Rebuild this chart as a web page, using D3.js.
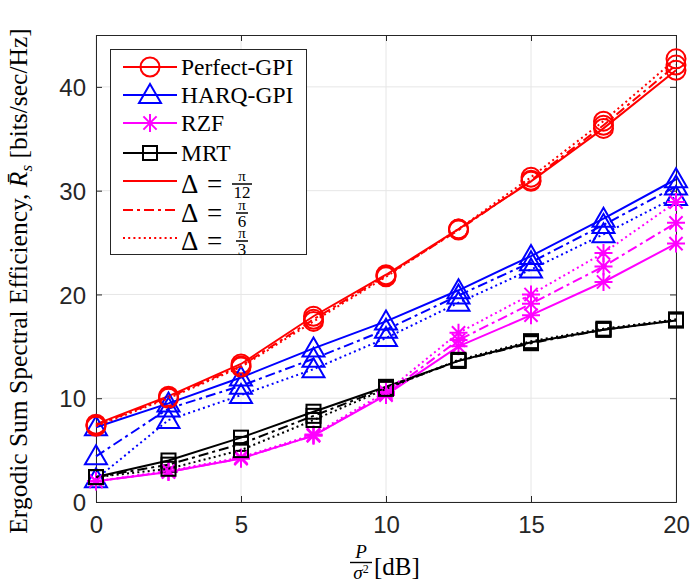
<!DOCTYPE html>
<html><head><meta charset="utf-8">
<script src="https://cdn.jsdelivr.net/npm/d3@7"></script>
<style>body{margin:0;background:#fff}svg{display:block}</style>
</head><body>
<svg id="c" width="693" height="582"></svg>
<script>
const snr = [0, 2.5, 5, 7.5, 10, 12.5, 15, 17.5, 20];
const xTicks = [0, 5, 10, 15, 20];
const yTicks = [0, 10, 20, 30, 40];
const schemes = ["Perfect-GPI", "HARQ-GPI", "RZF", "MRT"];
const deltas = ["π/12", "π/6", "π/3"];
// values per scheme, per delta (solid: π/12, dashdot: π/6, dotted: π/3)
const perfect12 = [7.5, 10.2, 13.3, 17.9, 21.9, 26.3, 30.9, 36.0, 41.6];
const perfect6  = [7.4, 10.1, 13.1, 17.6, 21.8, 26.2, 31.0, 36.3, 42.1];
const perfect3  = [7.3, 10.0, 13.0, 17.4, 21.7, 26.3, 31.3, 36.7, 42.7];
const harq12 = [7.2, 9.5, 12.0, 14.8, 17.4, 20.4, 23.7, 27.3, 31.1];
const harq6  = [4.4, 9.0, 11.2, 13.8, 16.6, 19.9, 23.1, 26.7, 30.4];
const harq3  = [2.2, 7.9, 10.3, 12.8, 15.8, 19.2, 22.4, 25.8, 29.4];
const rzf12 = [2.0, 2.9, 4.2, 6.4, 10.3, 15.0, 18.0, 21.2, 24.9];
const rzf6  = [2.0, 2.9, 4.2, 6.4, 10.4, 15.6, 19.1, 22.7, 26.9];
const rzf3  = [2.0, 3.0, 4.3, 6.5, 10.6, 16.3, 20.0, 24.0, 28.9];
const mrt12 = [2.4, 4.0, 6.2, 8.7, 11.1, 13.6, 15.4, 16.6, 17.5];
const mrt6  = [2.4, 3.6, 5.6, 8.3, 11.0, 13.6, 15.3, 16.6, 17.5];
const mrt3  = [2.4, 3.2, 5.0, 7.9, 10.9, 13.7, 15.5, 16.7, 17.6];

const colors = {"Perfect-GPI":"#FF0000","HARQ-GPI":"#0000FF","RZF":"#FF00FF","MRT":"#000000"};
const markers = {"Perfect-GPI":"circle","HARQ-GPI":"triangle","RZF":"star","MRT":"square"};
const dashes = ["none", "10,4,3,4", "2,3.2"];
const series = [
  {s:"Perfect-GPI", d:0, v:perfect12},{s:"HARQ-GPI", d:0, v:harq12},{s:"RZF", d:0, v:rzf12},{s:"MRT", d:0, v:mrt12},
  {s:"Perfect-GPI", d:1, v:perfect6},{s:"HARQ-GPI", d:1, v:harq6},{s:"RZF", d:1, v:rzf6},{s:"MRT", d:1, v:mrt6},
  {s:"Perfect-GPI", d:2, v:perfect3},{s:"HARQ-GPI", d:2, v:harq3},{s:"RZF", d:2, v:rzf3},{s:"MRT", d:2, v:mrt3}
];

const svg = d3.select("#c");
const L = 96, R = 676, T = 35, B = 502;
const x = d3.scaleLinear().domain([0, 20]).range([L, R]);
const y = d3.scaleLinear().domain([0, 45]).range([B, T]);
const axisCol = "#262626";
const serifF = "Liberation Serif, Tinos, Nimbus Roman, Times New Roman, DejaVu Serif, serif";

// grid
const g = svg.append("g");
g.selectAll(".gx").data(xTicks).join("line").attr("x1", d=>x(d)).attr("x2", d=>x(d)).attr("y1", T).attr("y2", B)
  .attr("stroke", "#e6e6e6").attr("stroke-width", 1);
g.selectAll(".gy").data(yTicks).join("line").attr("y1", d=>y(d)).attr("y2", d=>y(d)).attr("x1", L).attr("x2", R)
  .attr("stroke", "#e6e6e6").attr("stroke-width", 1);

// axes
const xa = svg.append("g").attr("transform", `translate(0,${B})`)
  .call(d3.axisBottom(x).tickValues(xTicks).tickSize(-6).tickPadding(14).tickFormat(d3.format("d")));
const xt = svg.append("g").attr("transform", `translate(0,${T})`)
  .call(d3.axisTop(x).tickValues(xTicks).tickSize(-6).tickFormat(""));
const ya = svg.append("g").attr("transform", `translate(${L},0)`)
  .call(d3.axisLeft(y).tickValues(yTicks).tickSize(-6).tickPadding(10).tickFormat(d3.format("d")));
const yr = svg.append("g").attr("transform", `translate(${R},0)`)
  .call(d3.axisRight(y).tickValues(yTicks).tickSize(-6).tickFormat(""));
[xa, xt, ya, yr].forEach(a => {
  a.select(".domain").attr("stroke", axisCol).attr("stroke-width", 1);
  a.selectAll(".tick line").attr("stroke", axisCol);
  a.selectAll("text").attr("fill", axisCol).attr("font-family", "Liberation Sans, Arial, sans-serif").attr("font-size", "24px");
});
xa.selectAll(".tick text").attr("dy", "0.71em");
ya.selectAll(".tick text").attr("dy", "0.36em");

// markers
function drawMarker(sel, type, cx, cy, col) {
  const m = sel.append("g").attr("transform", `translate(${cx},${cy})`).attr("fill", "none").attr("stroke", col).attr("stroke-width", 2);
  if (type === "circle") m.append("circle").attr("r", 9.5);
  else if (type === "triangle") m.append("path").attr("d", "M0,-11 L11,8 L-11,8 Z");
  else if (type === "square") m.append("rect").attr("x", -7).attr("y", -7).attr("width", 14).attr("height", 14);
  else if (type === "star") {
    const r = 9, r2 = 6.6;
    m.append("path").attr("d", `M0,${-r}V${r}M${-r},0H${r}M${-r2},${-r2}L${r2},${r2}M${-r2},${r2}L${r2},${-r2}`);
  }
}

const line = d3.line().x((d,i)=>x(snr[i])).y(d=>y(d));
const plot = svg.append("g");
series.forEach(se => {
  plot.append("path").datum(se.v).attr("d", line).attr("fill", "none")
    .attr("stroke", colors[se.s]).attr("stroke-width", 2)
    .attr("stroke-dasharray", dashes[se.d]);
  se.v.forEach((v,i) => drawMarker(plot, markers[se.s], x(snr[i]), y(v), colors[se.s]));
});

// legend
const lg = svg.append("g").attr("font-family", serifF).attr("fill", "#000");
lg.append("rect").attr("x", 110.5).attr("y", 49.5).attr("width", 196).attr("height", 205)
  .attr("fill", "#fff").attr("stroke", "#262626").attr("stroke-width", 1);
const rowsY = [67, 95, 123, 153];
schemes.forEach((s, i) => {
  const yy = rowsY[i];
  lg.append("line").attr("x1", 123).attr("x2", 177).attr("y1", yy).attr("y2", yy).attr("stroke", colors[s]).attr("stroke-width", 2);
  drawMarker(lg, markers[s], 150, yy, colors[s]);
  lg.append("text").attr("x", 181).attr("y", yy).attr("dy", "0.35em").attr("font-size", "23.5px").text(s);
});
const dRows = [181, 210, 238];
deltas.forEach((dl, i) => {
  const yy = dRows[i];
  lg.append("line").attr("x1", 123).attr("x2", 177).attr("y1", yy).attr("y2", yy).attr("stroke", "#FF0000")
    .attr("stroke-width", 2).attr("stroke-dasharray", dashes[i]);
  lg.append("text").attr("x", 181).attr("y", yy + 3).attr("dy", "0.35em").attr("font-size", "27px").text("Δ");
  lg.append("text").attr("x", 207).attr("y", yy + 3).attr("dy", "0.32em").attr("font-size", "27px").text("=");
  const [num, den] = dl.split("/");
  const fx = 242;
  const w = den.length > 1 ? 20 : 12;
  lg.append("line").attr("x1", fx - w/2).attr("x2", fx + w/2).attr("y1", yy + 3).attr("y2", yy + 3).attr("stroke", "#000").attr("stroke-width", 1.5);
  lg.append("text").attr("x", fx).attr("y", yy - 0.5).attr("text-anchor", "middle").attr("font-size", "15px").text(num);
  lg.append("text").attr("x", fx).attr("y", yy + 17).attr("text-anchor", "middle").attr("font-size", "17px").text(den);
});

// y label
const yl = svg.append("text").attr("transform", "translate(27,281) rotate(-90)").attr("text-anchor", "middle")
  .attr("font-family", serifF).attr("font-size", "25.5px").attr("fill", "#000");
yl.append("tspan").text("Ergodic Sum Spectral Efficiency,  ");
yl.append("tspan").attr("font-style", "italic").text("R̄");
yl.append("tspan").attr("font-style", "italic").attr("font-size", "17px").attr("dy", 5).text("s");
yl.append("tspan").attr("dy", -5).text("  [bits/sec/Hz]");

// x label
const fxX = 361;
svg.append("text").attr("x", fxX).attr("y", 558).attr("text-anchor", "middle").attr("font-style", "italic")
  .attr("font-family", serifF).attr("font-size", "19px").text("P");
svg.append("line").attr("x1", fxX - 11).attr("x2", fxX + 11).attr("y1", 562.5).attr("y2", 562.5).attr("stroke", "#000").attr("stroke-width", 1.4);
const sg = svg.append("text").attr("x", fxX).attr("y", 579).attr("text-anchor", "middle")
  .attr("font-family", serifF).attr("font-size", "19px");
sg.append("tspan").attr("font-style", "italic").text("σ");
sg.append("tspan").attr("font-size", "12px").attr("dy", -6).text("2");
svg.append("text").attr("x", 374).attr("y", 575).attr("font-family", serifF).attr("font-size", "25px").text("[dB]");
</script>
</body></html>
